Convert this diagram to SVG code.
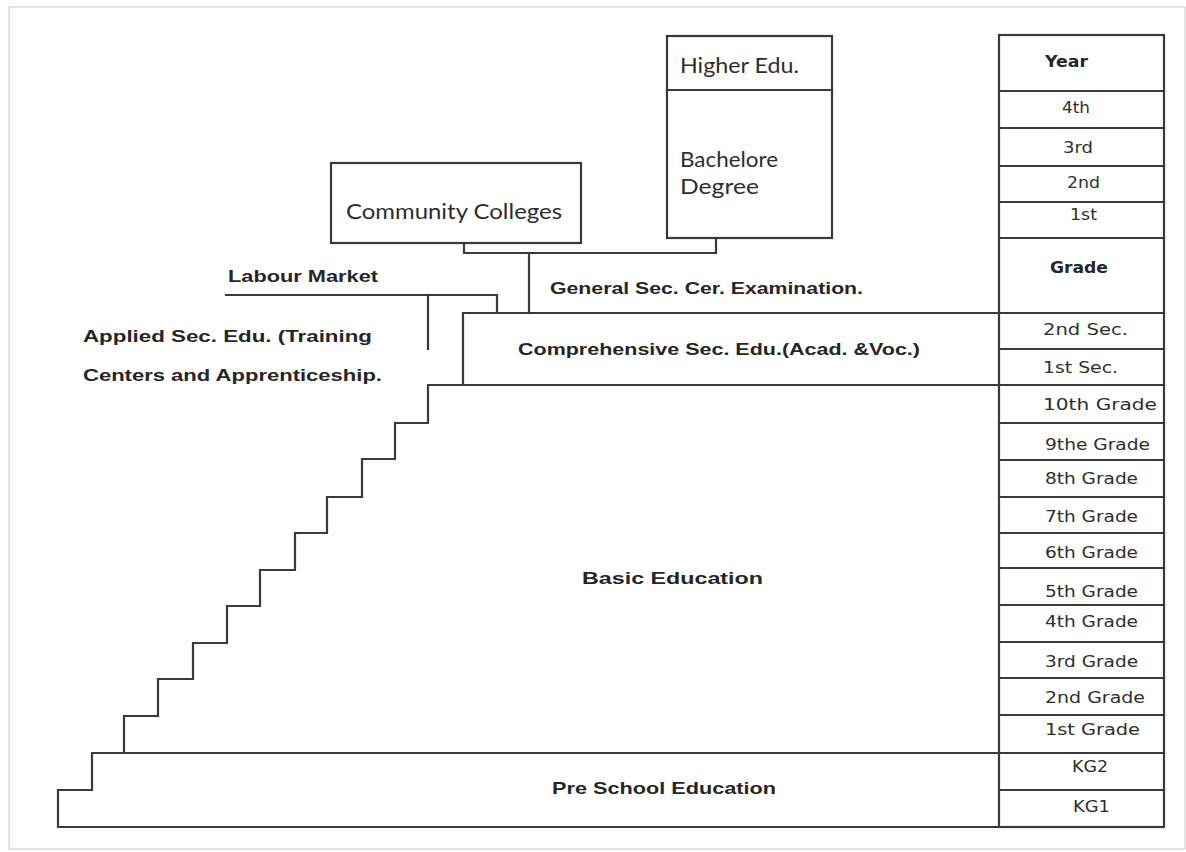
<svg xmlns="http://www.w3.org/2000/svg" width="1186" height="852" viewBox="0 0 1186 852">
<style>
.ln{fill:none;stroke:#3a3a3a;stroke-width:2.2;stroke-linecap:square;stroke-linejoin:miter}
text{lengthAdjust:spacingAndGlyphs}
.cal{font-family:Lato,"Open Sans","Liberation Sans",sans-serif;font-size:21px;fill:#2e2e2e}
.bl{font-family:"Liberation Sans",Arial,sans-serif;font-weight:bold;font-size:17px;fill:#262626}
.col{font-family:"DejaVu Sans",Verdana,sans-serif;font-size:16px;fill:#2e2e2e}
.colb{font-family:"DejaVu Sans",Verdana,sans-serif;font-size:16px;font-weight:bold;fill:#262626}
</style>
<rect x="0" y="0" width="1186" height="852" fill="#ffffff"/>
<rect x="9" y="7" width="1176" height="842" fill="#ffffff" stroke="#dcdcdc" stroke-width="1.5"/>

<g id="year-column">
<rect class="ln" x="999" y="35" width="165" height="792"/>
<path class="ln" d="M999,91H1164M999,128H1164M999,166H1164M999,202H1164M999,238H1164M999,313H1164M999,349H1164M999,385H1164M999,423H1164M999,460H1164M999,497H1164M999,533H1164M999,568H1164M999,605H1164M999,642H1164M999,678H1164M999,715H1164M999,753H1164M999,790H1164"/>
<text class="colb" x="1045" y="67" textLength="43" lengthAdjust="spacingAndGlyphs">Year</text>
<text class="col" x="1062" y="113" textLength="28" lengthAdjust="spacingAndGlyphs">4th</text>
<text class="col" x="1063" y="153" textLength="30" lengthAdjust="spacingAndGlyphs">3rd</text>
<text class="col" x="1067" y="188" textLength="33" lengthAdjust="spacingAndGlyphs">2nd</text>
<text class="col" x="1070" y="220" textLength="27" lengthAdjust="spacingAndGlyphs">1st</text>
<text class="colb" x="1050" y="273" textLength="58" lengthAdjust="spacingAndGlyphs">Grade</text>
<text class="col" x="1043" y="335" textLength="85" lengthAdjust="spacingAndGlyphs">2nd Sec.</text>
<text class="col" x="1043" y="373" textLength="75" lengthAdjust="spacingAndGlyphs">1st Sec.</text>
<text class="col" x="1043" y="410" textLength="114" lengthAdjust="spacingAndGlyphs">10th Grade</text>
<text class="col" x="1045" y="450" textLength="105" lengthAdjust="spacingAndGlyphs">9the Grade</text>
<text class="col" x="1045" y="484" textLength="93" lengthAdjust="spacingAndGlyphs">8th Grade</text>
<text class="col" x="1045" y="522" textLength="93" lengthAdjust="spacingAndGlyphs">7th Grade</text>
<text class="col" x="1045" y="558" textLength="93" lengthAdjust="spacingAndGlyphs">6th Grade</text>
<text class="col" x="1045" y="597" textLength="93" lengthAdjust="spacingAndGlyphs">5th Grade</text>
<text class="col" x="1045" y="627" textLength="93" lengthAdjust="spacingAndGlyphs">4th Grade</text>
<text class="col" x="1045" y="667" textLength="93" lengthAdjust="spacingAndGlyphs">3rd Grade</text>
<text class="col" x="1045" y="703" textLength="100" lengthAdjust="spacingAndGlyphs">2nd Grade</text>
<text class="col" x="1045" y="735" textLength="95" lengthAdjust="spacingAndGlyphs">1st Grade</text>
<text class="col" x="1072" y="772" textLength="36" lengthAdjust="spacingAndGlyphs">KG2</text>
<text class="col" x="1073" y="812" textLength="37" lengthAdjust="spacingAndGlyphs">KG1</text>
</g>

<g id="higher-edu">
<rect class="ln" x="667" y="36" width="165" height="202"/>
<path class="ln" d="M667,90H832"/>
<text class="cal" x="680" y="73" textLength="119" lengthAdjust="spacingAndGlyphs">Higher Edu.</text>
<text class="cal" x="680" y="167" textLength="98" lengthAdjust="spacingAndGlyphs">Bachelore</text>
<text class="cal" x="680" y="194" textLength="79" lengthAdjust="spacingAndGlyphs">Degree</text>
</g>

<g id="community-colleges">
<rect class="ln" x="331" y="163" width="250" height="80"/>
<text class="cal" x="346" y="219" textLength="216" lengthAdjust="spacingAndGlyphs">Community Colleges</text>
</g>

<g id="general-exam">
<text class="bl" x="550" y="294" textLength="313" lengthAdjust="spacingAndGlyphs">General Sec. Cer. Examination.</text>
</g>

<g id="labour-market">
<text class="bl" x="228" y="282" textLength="150" lengthAdjust="spacingAndGlyphs">Labour Market</text>
</g>

<g id="applied-sec">
<text class="bl" x="83" y="342" textLength="289" lengthAdjust="spacingAndGlyphs">Applied Sec. Edu. (Training</text>
<text class="bl" x="83" y="381" textLength="299" lengthAdjust="spacingAndGlyphs">Centers and Apprenticeship.</text>
</g>

<g id="comprehensive-sec">
<path class="ln" d="M999,313H463V385H999"/>
<text class="bl" x="518" y="355" textLength="402" lengthAdjust="spacingAndGlyphs">Comprehensive Sec. Edu.(Acad. &amp;Voc.)</text>
</g>

<g id="basic-education">
<path class="ln" d="M999,385H428V423H395V459H362V497H327V533H295V570H260V606H227V643H193V679H158V716H124V753"/>
<text class="bl" x="582" y="584" textLength="181" lengthAdjust="spacingAndGlyphs">Basic Education</text>
</g>

<g id="pre-school">
<path class="ln" d="M999,753H92V790H58V827H999"/>
<text class="bl" x="552" y="794" textLength="224" lengthAdjust="spacingAndGlyphs">Pre School Education</text>
</g>

<g id="connectors">
<path class="ln" d="M464,243V253H716V238"/>
<path class="ln" d="M529,253V313"/>
<path class="ln" d="M226,295H497V313"/>
<path class="ln" d="M428,295V349"/>
</g>
</svg>
